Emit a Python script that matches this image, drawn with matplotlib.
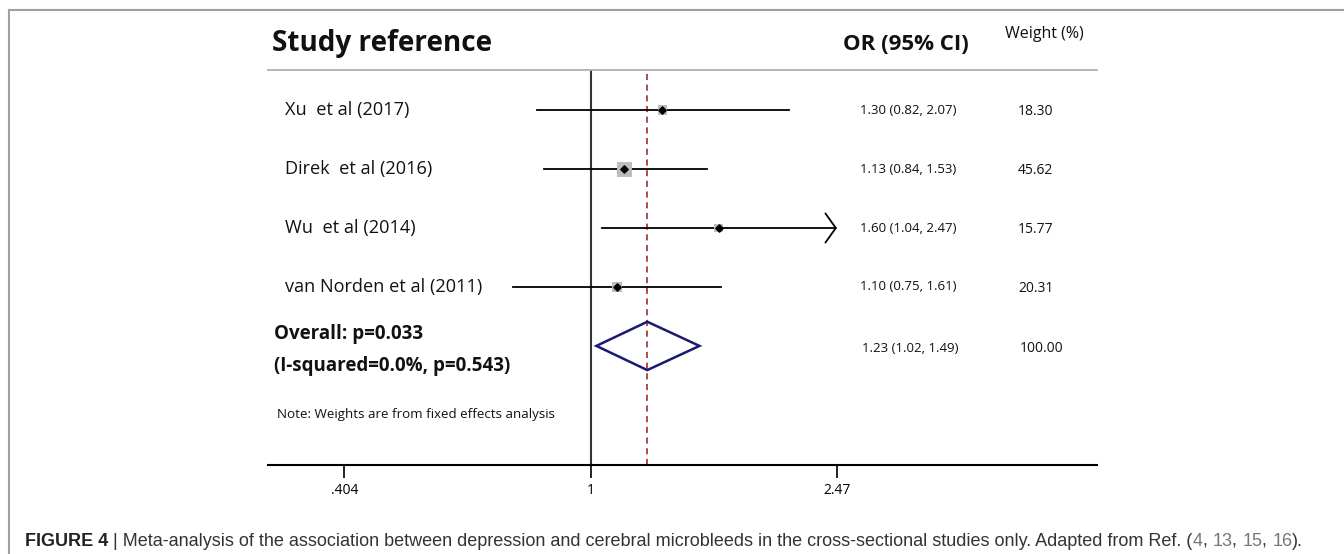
import matplotlib
matplotlib.use("Agg")
import matplotlib.pyplot as plt
import matplotlib.transforms as mtransforms
from matplotlib.patches import Polygon
import numpy as np

# ---------------- data ----------------
studies = ["Xu  et al (2017)", "Direk  et al (2016)", "Wu  et al (2014)", "van Norden et al (2011)"]
or_est = [1.30, 1.13, 1.60, 1.10]
ci_low = [0.82, 0.84, 1.04, 0.75]
ci_high = [2.07, 1.53, 2.47, 1.61]
weights = [18.30, 45.62, 15.77, 20.31]
or_labels = ["1.30 (0.82, 2.07)", "1.13 (0.84, 1.53)", "1.60 (1.04, 2.47)", "1.10 (0.75, 1.61)"]
weight_labels = ["18.30", "45.62", "15.77", "20.31"]
arrow_right = [False, False, True, False]

overall_est = 1.23
overall_low = 1.02
overall_high = 1.49
overall_label = "1.23 (1.02, 1.49)"
overall_weight = "100.00"

xticks = [0.404, 1, 2.47]
xtick_labels = [".404", "1", "2.47"]

chart_font = "Open Sans"

W, H = 1344, 554
fig = plt.figure(figsize=(W / 100, H / 100), dpi=100)

def fx(px):
    return px / W

def fy(py):
    return 1 - py / H

# frame lines (top and left)
fig.add_artist(plt.Line2D([fx(9), fx(1344)], [fy(10), fy(10)], color="#a0a0a0", lw=1.5))
fig.add_artist(plt.Line2D([fx(9), fx(9)], [fy(10), fy(554)], color="#a0a0a0", lw=1.5))

ax = fig.add_axes([fx(268), fy(465), fx(1097) - fx(268), (465 - 70) / H])
ax.set_xscale("log")
ax.set_xlim(np.exp((268 - 591) / 272), np.exp((1097 - 591) / 272))
ax.set_ylim(6.02, -0.68)

for s in ["left", "right"]:
    ax.spines[s].set_visible(False)
ax.spines["top"].set_color("#b0b0b0")
ax.spines["top"].set_linewidth(1.3)
ax.spines["bottom"].set_color("black")
ax.spines["bottom"].set_linewidth(1.5)
ax.set_yticks([])
ax.set_xticks(xticks)
ax.set_xticklabels(xtick_labels, fontfamily=chart_font, fontsize=10)
ax.xaxis.set_minor_locator(matplotlib.ticker.NullLocator())
ax.tick_params(axis="x", direction="out", length=9, width=1.2, pad=4)

# null line and overall line
ax.axvline(1, color="#333333", lw=1.5)
ax.axvline(overall_est, color="#9b1b1b", lw=1.1, ls=(0, (4, 3)))

rows = np.arange(len(studies))
for i in rows:
    if arrow_right[i]:
        ax.annotate("", xy=(ci_high[i], i), xytext=(ci_low[i], i),
                    arrowprops=dict(arrowstyle="->,head_length=0.75,head_width=1.05",
                                    lw=1.3, color="black", shrinkA=0, shrinkB=0,
                                    mutation_scale=10))
    else:
        ax.plot([ci_low[i], ci_high[i]], [i, i], color="black", lw=1.3, zorder=2)

ax.scatter(or_est, rows, s=np.array(weights) * 2.55, marker="s", color="#bdbdbd", zorder=3, linewidths=0)
ax.scatter(or_est, rows, s=14, marker="D", color="black", zorder=4)

# overall diamond
yo = len(studies)
h = 0.41
diamond = Polygon([(overall_low, yo), (overall_est, yo - h), (overall_high, yo), (overall_est, yo + h)],
                  closed=True, fill=False, edgecolor="#1a1a6e", lw=1.8, zorder=5)
ax.add_patch(diamond)

# texts
tr = mtransforms.blended_transform_factory(fig.transFigure, ax.transData)
for i in rows:
    ax.text(fx(285), i, studies[i], transform=tr, ha="left", va="center",
            fontfamily=chart_font, fontsize=13.1, color="#111111")
    ax.text(fx(860), i, or_labels[i], transform=tr, ha="left", va="center",
            fontfamily=chart_font, fontsize=9.5, color="#111111")
    ax.text(fx(1018), i + 0.03, weight_labels[i], transform=tr, ha="left", va="center",
            fontfamily=chart_font, fontsize=10, color="#111111")

ax.text(fx(862), yo + 0.05, overall_label, transform=tr, ha="left", va="center",
        fontfamily=chart_font, fontsize=9.5, color="#111111")
ax.text(fx(1020), yo + 0.05, overall_weight, transform=tr, ha="left", va="center",
        fontfamily=chart_font, fontsize=10, color="#111111")

ax.text(fx(274), yo - 0.2, "Overall: p=0.033", transform=tr, ha="left", va="center",
        fontfamily=chart_font, fontsize=13.5, fontweight="bold", color="#111111")
ax.text(fx(274), yo + 0.34, "(I-squared=0.0%, p=0.543)", transform=tr, ha="left", va="center",
        fontfamily=chart_font, fontsize=13.5, fontweight="bold", color="#111111")
ax.text(fx(277), yo + 1.17, "Note: Weights are from fixed effects analysis", transform=tr,
        ha="left", va="center", fontfamily=chart_font, fontsize=9.6, color="#111111")

# headers
fig.text(fx(272), fy(43), "Study reference", ha="left", va="center",
         fontfamily=chart_font, fontsize=20.1, fontweight="bold", color="#111111")
fig.text(fx(843), fy(44), "OR (95% CI)", ha="left", va="center",
         fontfamily=chart_font, fontsize=16, fontweight="bold", color="#111111")
fig.text(fx(1005), fy(34), "Weight (%)", ha="left", va="center",
         fontfamily=chart_font, fontsize=11.5, color="#111111")

# caption with mixed styles
renderer = fig.canvas.get_renderer()
pieces = [
    ("FIGURE 4", "bold", "#222222"),
    (" | Meta-analysis of the association between depression and cerebral microbleeds in the cross-sectional studies only. Adapted from Ref. (", "normal", "#333333"),
    ("4", "normal", "#777777"), (", ", "normal", "#333333"),
    ("13", "normal", "#777777"), (", ", "normal", "#333333"),
    ("15", "normal", "#777777"), (", ", "normal", "#333333"),
    ("16", "normal", "#777777"), (").", "normal", "#333333"),
]
xcur = 25
for txt, wt, col in pieces:
    t = fig.text(fx(xcur), fy(541), txt, ha="left", va="center", fontfamily="Liberation Sans",
                 fontsize=13.0, fontweight=wt, color=col)
    bb = t.get_window_extent(renderer=renderer)
    xcur += bb.width

fig.savefig("out.png", dpi=100)
